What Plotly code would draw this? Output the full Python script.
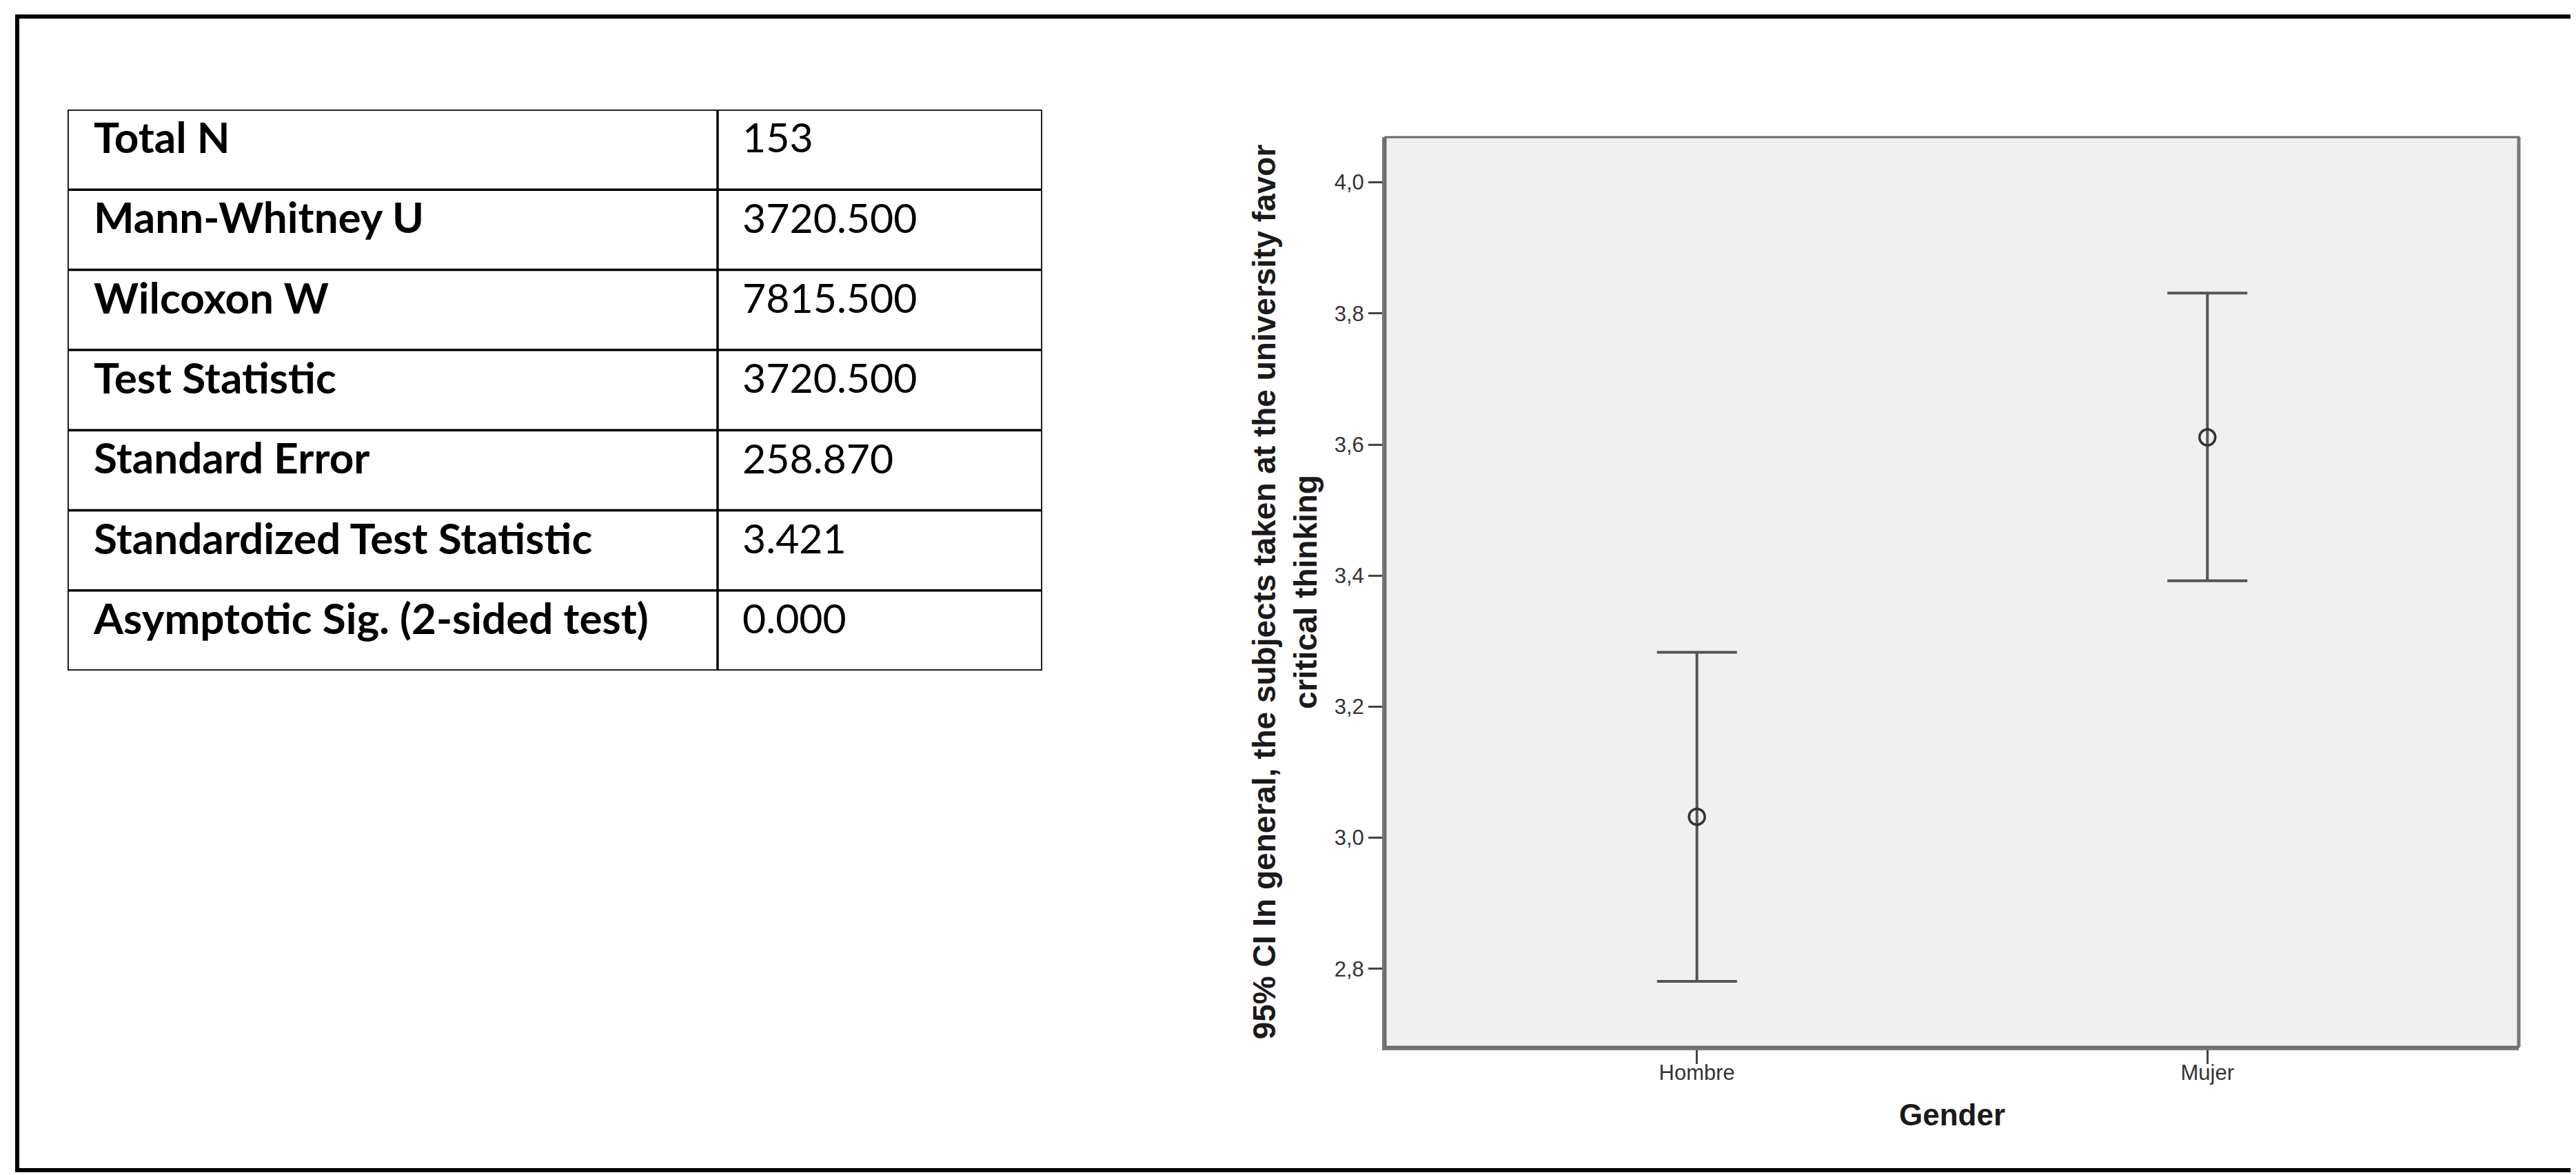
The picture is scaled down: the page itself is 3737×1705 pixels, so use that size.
import plotly.graph_objects as go

# Mann-Whitney test summary
stat_labels = ["Total N", "Mann-Whitney U", "Wilcoxon W", "Test Statistic",
               "Standard Error", "Standardized Test Statistic",
               "Asymptotic Sig. (2-sided test)"]
stat_values = ["153", "3720.500", "7815.500", "3720.500", "258.870", "3.421", "0.000"]

# 95% CI by gender
genders = ["Hombre", "Mujer"]
ci_mean = [3.032, 3.611]
ci_lower = [2.781, 3.392]
ci_upper = [3.283, 3.831]

y_ticks = [2.8, 3.0, 3.2, 3.4, 3.6, 3.8, 4.0]

W, H = 3737, 1705

# table drawn on its own hidden axes: x in px of table width, y in rows
tab_w = 1414
col_split = 943
n_rows = len(stat_labels)
rows = list(range(n_rows))
text_y = [r + 0.41 for r in rows]

fig = go.Figure()

fig.add_trace(go.Scatter(
    x=[38] * n_rows, y=text_y, text=["<b>" + s + "</b>" for s in stat_labels],
    mode="text", textposition="middle right",
    textfont=dict(family="Lato", size=62, color="black"),
    xaxis="x2", yaxis="y2", showlegend=False, hoverinfo="skip", cliponaxis=False,
))
fig.add_trace(go.Scatter(
    x=[col_split + 36] * n_rows, y=text_y, text=stat_values,
    mode="text", textposition="middle right",
    textfont=dict(family="Lato", size=59, color="black"),
    xaxis="x2", yaxis="y2", showlegend=False, hoverinfo="skip", cliponaxis=False,
))

# error bars
err_plus = [u - m for u, m in zip(ci_upper, ci_mean)]
err_minus = [m - l for m, l in zip(ci_mean, ci_lower)]
fig.add_trace(go.Scatter(
    x=genders, y=ci_mean, mode="markers",
    marker=dict(symbol="circle-open", size=23, color="#333333", line=dict(width=3.5)),
    error_y=dict(type="data", array=err_plus, arrayminus=err_minus,
                 color="#555555", thickness=4, width=58),
    showlegend=False, hoverinfo="skip",
))

axis_font = dict(family="Liberation Sans, Arial", size=31, color="#333333")
title_font = dict(family="Liberation Sans, Arial", size=46, color="#1a1a1a")

table_line = dict(color="black", width=3.5)
shapes = [
    # grey plot background, only under the chart
    dict(type="rect", xref="x domain", yref="y domain", x0=0, x1=1, y0=0, y1=1,
         fillcolor="#f0f0f0", line=dict(width=0), layer="below"),
]
for r in range(n_rows + 1):
    shapes.append(dict(type="line", xref="x2", yref="y2", x0=0, x1=tab_w, y0=r, y1=r, line=table_line))
for c in [0, col_split, tab_w]:
    shapes.append(dict(type="line", xref="x2", yref="y2", x0=c, x1=c, y0=0, y1=n_rows, line=table_line))

shapes += [
    # plot frame (top and right)
    dict(type="rect", xref="x domain", yref="y domain", x0=0, x1=1, y0=0, y1=1,
         line=dict(color="#6a6a6a", width=3)),
    dict(type="line", xref="x domain", yref="y domain", x0=1, x1=1, y0=0, y1=1,
         line=dict(color="#777777", width=5)),
    # outer picture border
    dict(type="rect", xref="paper", yref="paper",
         x0=17 / W, x1=3725 / W, y0=1 - 1690 / H, y1=1 - 16 / H,
         line=dict(color="black", width=6)),
]

fig.update_layout(
    width=W, height=H,
    margin=dict(l=0, r=0, t=0, b=0),
    paper_bgcolor="white",
    plot_bgcolor="white",
    separators=",.",
    xaxis=dict(
        domain=[2002 / W, 3646 / W],
        type="category", range=[-0.61, 1.61],
        showgrid=False, zeroline=False,
        showline=True, linewidth=5, linecolor="#777777",
        ticks="outside", ticklen=20, tickwidth=3, tickcolor="#444444",
        ticklabelstandoff=-14,
        tickfont=axis_font,
        title=dict(text="<b>Gender</b>", font=dict(family="Liberation Sans, Arial", size=44, color="#1a1a1a"),
                   standoff=30),
    ),
    yaxis=dict(
        domain=[1 - 1511 / H, 1 - 191 / H],
        range=[2.681, 4.069],
        tickvals=y_ticks, tickformat=".1f",
        showgrid=False, zeroline=False,
        showline=True, linewidth=5, linecolor="#777777",
        ticks="outside", ticklen=20, tickwidth=3, tickcolor="#444444",
        tickfont=axis_font,
        title=dict(text="<b>95% CI In general, the subjects taken at the university favor<br>critical thinking</b>",
                   font=title_font, standoff=12),
    ),
    xaxis2=dict(domain=[90 / W, 1504 / W], range=[0, tab_w], visible=False, fixedrange=True),
    yaxis2=dict(domain=[1 - 965 / H, 1 - 151 / H], range=[n_rows, 0], visible=False, fixedrange=True),
    shapes=shapes,
)

fig.write_html("out.html")
